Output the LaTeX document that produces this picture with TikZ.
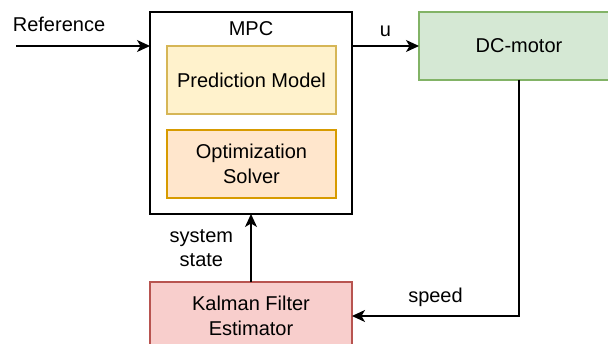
\documentclass[tikz,border=0pt]{standalone}
\usepackage{fontspec}
\setmainfont{Liberation Sans}
\usetikzlibrary{positioning,arrows.meta}
\usepackage{xcolor}

\definecolor{predfill}{HTML}{FFF2CC}
\definecolor{predline}{HTML}{D6B656}
\definecolor{optfill}{HTML}{FFE6CC}
\definecolor{optline}{HTML}{D79B00}
\definecolor{motorfill}{HTML}{D5E8D4}
\definecolor{motorline}{HTML}{82B366}
\definecolor{kffill}{HTML}{F8CECC}
\definecolor{kfline}{HTML}{B85450}

\begin{document}
\begin{tikzpicture}[
  x=1pt, y=-1pt,
  box/.style={rectangle, draw, line width=1.2pt, inner sep=0pt, outer sep=0pt,
    align=center, font=\fontsize{20}{24.5}\selectfont},
  txt/.style={align=center, font=\fontsize{20}{24.5}\selectfont},
  flow/.style={draw, line width=1.2pt, -{Stealth[length=13pt, width=12pt, inset=3.5pt]}},
  node distance=16pt,
]
  \useasboundingbox (0,0) rectangle (608,344);
  \clip (0,0) rectangle (608,344);

  \node[box, minimum width=202pt, minimum height=202pt] (mpc) at (251,113) {};
  \node[txt] (mpclabel) at (251,29) {MPC};
  \node[box, draw=predline, fill=predfill, minimum width=169pt, minimum height=68pt]
    (pred) at (251.5,80) {Prediction Model};
  \node[box, draw=optline, fill=optfill, minimum width=169pt, minimum height=68pt,
    below=of pred] (opt) {Optimization\\Solver};
  \node[box, draw=motorline, fill=motorfill, minimum width=200pt, minimum height=68pt]
    (motor) at (519,46) {DC-motor};
  \node[box, draw=kfline, fill=kffill, minimum width=202pt, minimum height=68pt]
    (kf) at (251,316) {Kalman Filter\\Estimator};

  \coordinate (refin) at (16,46);
  \node[txt] (reflabel) at (59,24) {Reference};

  \draw[flow] (refin) -- (refin -| mpc.west);
  \draw[flow] (motor.west -| mpc.east) -- node[txt, above=5pt] {u} (motor.west);
  \draw[flow] (motor.south) |- node[txt, pos=0.75, above=5pt] {speed} (kf.east);
  \draw[flow] (kf.north) -- node[txt, left=14pt] {system\\state} (kf.north |- mpc.south);
\end{tikzpicture}
\end{document}
